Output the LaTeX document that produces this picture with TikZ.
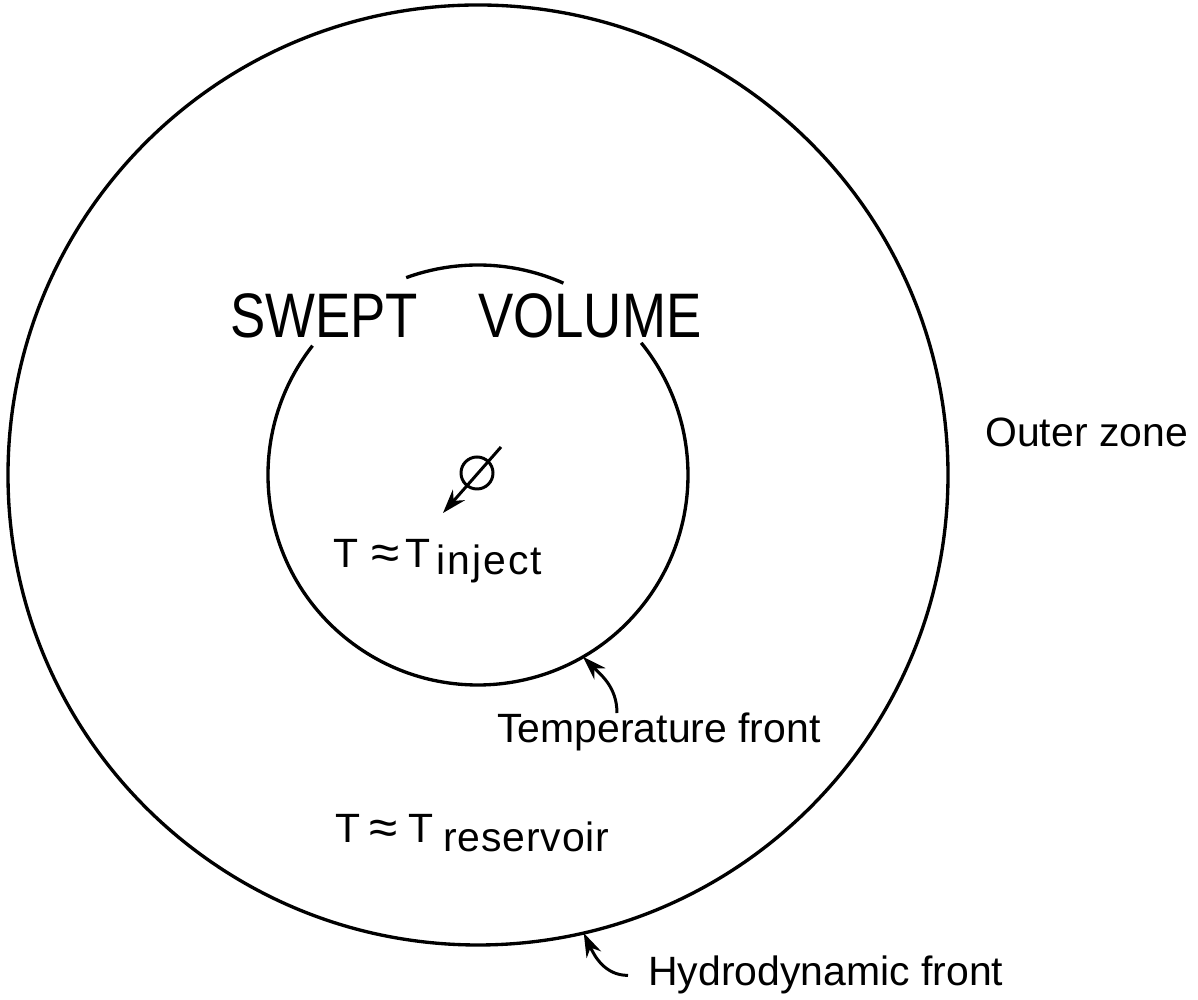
\documentclass[tikz,border=0pt]{standalone}
\usepackage{fontspec}
\setmainfont{Liberation Sans}
\newfontfamily\titlefont[FakeStretch=0.84]{Liberation Sans}
\usepackage{tikz}
\usetikzlibrary{positioning,arrows.meta,calc}
\newcommand{\apx}{\raisebox{-0.03cm}{\scalebox{1.25}[1.2]{≈}}}

\begin{document}
\begin{tikzpicture}[x=0.02cm, y=0.02cm,
  every node/.style={font=\fontsize{23.3}{28}\selectfont, inner sep=0pt},
  front/.style={line width=1.9pt},
  ptr/.style={-{Stealth[length=0.48cm, width=0.32cm]}, line width=1.7pt},
  big/.style={font=\titlefont\fontsize{35.8}{40}\selectfont}
]
  \useasboundingbox (0,0) rectangle (1198,1000);
  \coordinate (c) at (478,525);

  % hydrodynamic and temperature fronts
  \draw[front] (c) circle[radius=470];
  \draw[front] ($(c)+(142:210)$) arc[start angle=142, end angle=399, radius=210];
  \draw[front] ($(c)+(66:210)$) arc[start angle=66, end angle=110, radius=210];
  \coordinate (tfront) at ($(c)+(-60:210)$);
  \coordinate (hfront) at ($(c)+(-77:470)$);

  % injection well
  \node[circle, draw, line width=1.7pt, minimum size=0.64cm] (well) at (477,527) {};
  \coordinate (wtail) at (501,553);
  \coordinate (wtip) at (443,487);
  \draw[ptr] (wtail) -- (wtip);

  \node[big, anchor=base west] (swept) at (230,662) {SWEPT\hspace{1.2cm}VOLUME};
  \node[anchor=base west] (tinj) at (333,432)
    {T\hspace{0.26cm}\apx\hspace{0.12cm}T\hspace{0.12cm}\raisebox{-0.14cm}{\addfontfeature{LetterSpace=5}inject}};
  \node[anchor=base west] (tres) at (335,157)
    {T\hspace{0.18cm}\apx\hspace{0.22cm}T\hspace{0.2cm}\raisebox{-0.18cm}{\addfontfeature{LetterSpace=2}reservoir}};
  \node[anchor=base west] (outer) at (985,553) {Outer zone};
  \node[anchor=base west] (tftext) at (497,257) {Temperature front};
  \node[anchor=base west] (hftext) at (648,14) {Hydrodynamic front};

  \draw[ptr] ([xshift=2.4cm]tftext.north west) to[out=90, in=-45] (tfront);
  \draw[ptr] ([xshift=-0.4cm]hftext.west) to[out=180, in=-65] (hfront);
\end{tikzpicture}
\end{document}
